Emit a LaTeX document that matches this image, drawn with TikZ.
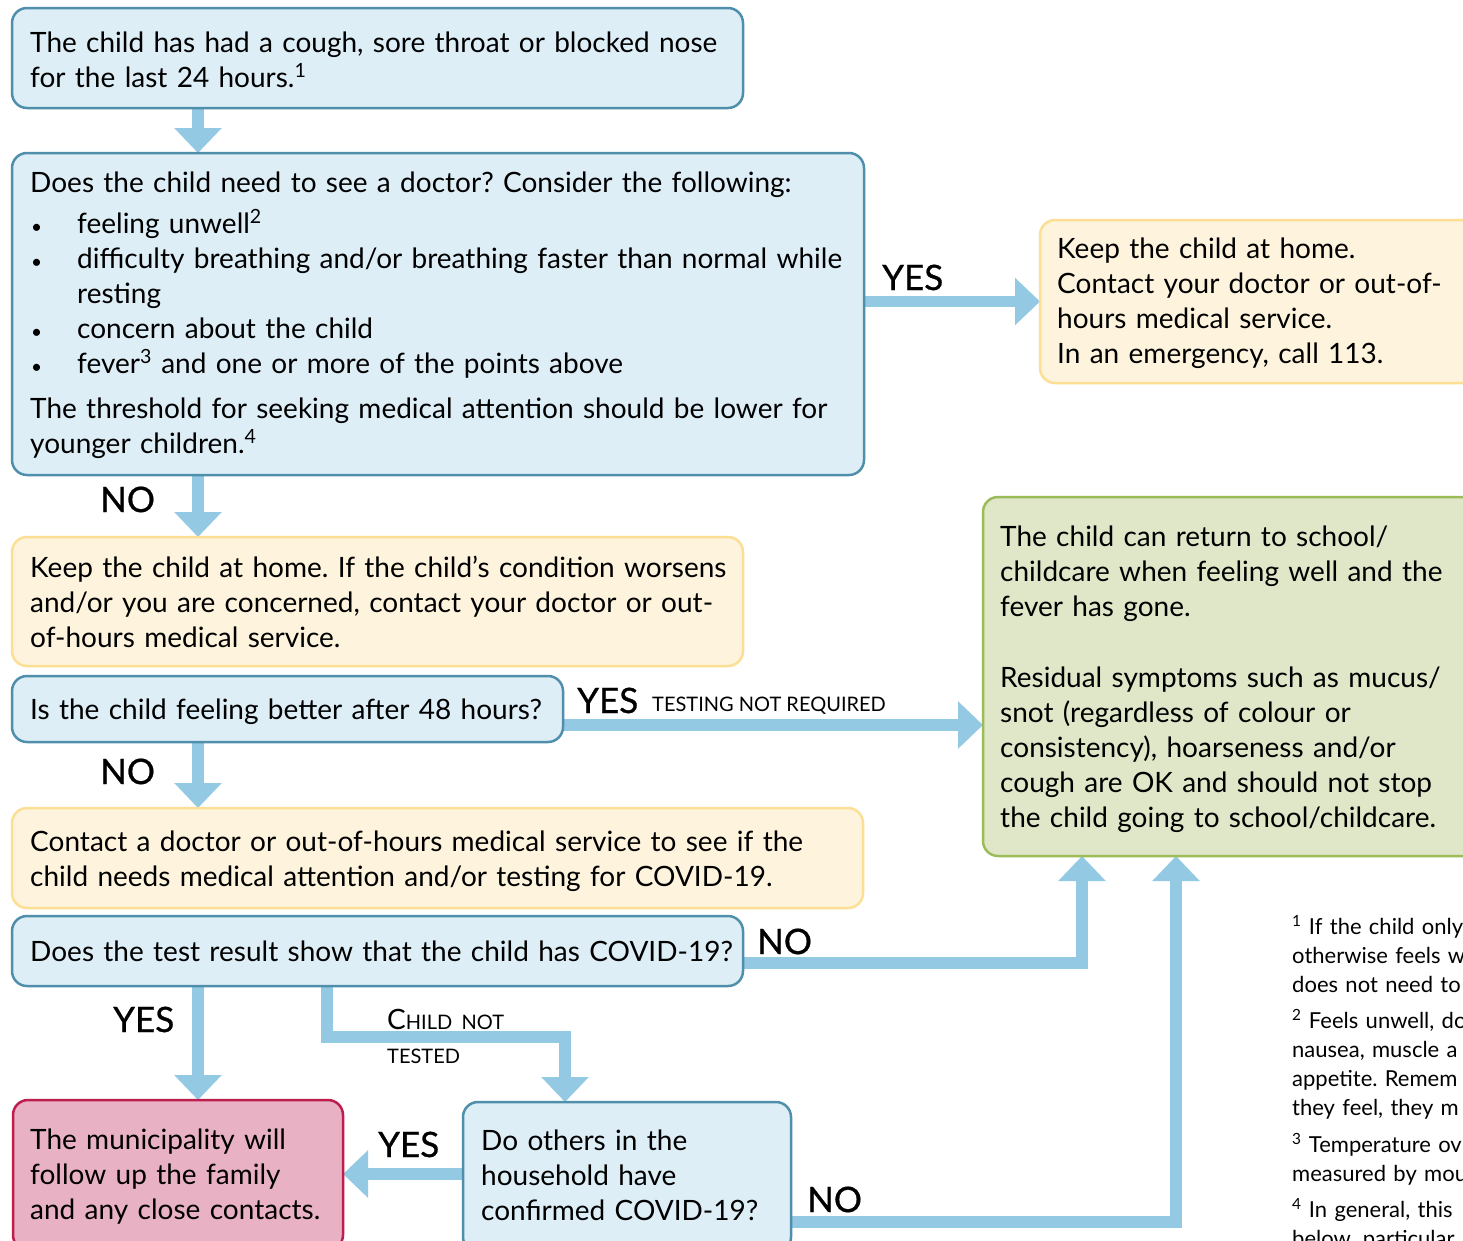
\documentclass[tikz,border=0pt]{standalone}
\usepackage{fontspec}
\setmainfont{Lato}
\newfontfamily\lblfont[FakeBold=0.8]{Lato}
\usetikzlibrary{arrows.meta,calc}
\definecolor{arrowc}{HTML}{93C9E3}
\definecolor{bfill}{HTML}{DDEEF7}
\definecolor{bborder}{HTML}{4F8FAB}
\definecolor{yfill}{HTML}{FEF4DD}
\definecolor{yborder}{HTML}{FCDF95}
\definecolor{gfill}{HTML}{DFE7C8}
\definecolor{gborder}{HTML}{9CBB59}
\definecolor{pfill}{HTML}{E9B2C4}
\definecolor{pborder}{HTML}{BE1E4D}
\pgfdeclarelayer{bg}
\pgfsetlayers{bg,main}
\newcommand{\bul}{\makebox[47pt][l]{\hspace{1pt}{\fontsize{19}{19}\selectfont\textbullet}}}
\tikzset{
  box/.style={draw, line width=2.5pt, rounded corners=15pt, outer sep=0pt, inner sep=0pt, anchor=north west},
  bluebox/.style={box, draw=bborder, fill=bfill},
  yellowbox/.style={box, draw=yborder, fill=yfill},
  greenbox/.style={box, draw=gborder, fill=gfill},
  pinkbox/.style={box, draw=pborder, fill=pfill},
  txt/.style={inner sep=0pt, anchor=base west, align=left, text width=1000pt, font=\fontsize{28}{35}\selectfont\frenchspacing},
  lbl/.style={inner sep=0pt, anchor=base west, font=\lblfont\fontsize{35}{35}\selectfont},
  small/.style={inner sep=0pt, anchor=base west, font=\fontsize{20}{20}\selectfont},
  fn/.style={inner sep=0pt, anchor=base west, align=left, text width=400pt, font=\fontsize{22}{29}\selectfont\frenchspacing},
  flow/.style={draw=arrowc, line width=11.5pt, line join=miter, -{Triangle[width=46pt,length=25pt]}},
}
\begin{document}
\begin{tikzpicture}[x=1pt,y=-1pt]
\useasboundingbox (0,0) rectangle (1463,1240);
\begin{pgfonlayer}{bg}
\fill[white] (0,0) rectangle (1463,1240);
\end{pgfonlayer}
\clip (0,0) rectangle (1463,1240);
% boxes
\node[bluebox, minimum width=731pt, minimum height=100pt] (b1) at (12,8) {};
\node[bluebox, minimum width=852pt, minimum height=322pt] (b2) at (12,153) {};
\node[yellowbox, minimum width=480pt, minimum height=163pt] (b3) at (1040,220) {};
\node[yellowbox, minimum width=731pt, minimum height=129pt] (b4) at (12,537) {};
\node[bluebox, minimum width=551pt, minimum height=66pt] (b5) at (12,676) {};
\node[greenbox, minimum width=520pt, minimum height=359pt] (g) at (983,497) {};
\node[yellowbox, minimum width=851pt, minimum height=100pt] (b6) at (12,808) {};
\node[bluebox, minimum width=731pt, minimum height=70pt] (b7) at (12,916) {};
\node[pinkbox, minimum width=330pt, minimum height=150pt] (p) at (13,1100) {};
\node[bluebox, minimum width=328pt, minimum height=150pt] (b8) at (463,1102) {};
% texts
\node[txt] (t1) at (30,52) {The child has had a cough, sore throat or blocked nose\\for the last 24 hours.\textsuperscript{1}};
\node[txt] (t2a) at (30,192) {Does the child need to see a doctor? Consider the following:};
\node[txt] (t2b) at (30,233) {\bul feeling unwell\textsuperscript{2}\\\bul difficulty breathing and/or breathing faster than normal while\\\hspace*{47pt}resting\\\bul concern about the child\\\bul fever\textsuperscript{3} and one or more of the points above};
\node[txt] (t2c) at (30,418) {The threshold for seeking medical attention should be lower for\\younger children.\textsuperscript{4}};
\node[txt] (t3) at (1057,258) {Keep the child at home.\\Contact your doctor or out-of-\\hours medical service.\\In an emergency, call 113.};
\node[txt] (t4) at (30,577) {Keep the child at home. If the child’s condition worsens\\and/or you are concerned, contact your doctor or out-\\of-hours medical service.};
\node[txt] (t5) at (30,719) {Is the child feeling better after 48 hours?};
\node[txt] (tg1) at (1000,546) {The child can return to school/\\childcare when feeling well and the\\fever has gone.};
\node[txt] (tg2) at (1000,687) {Residual symptoms such as mucus/\\snot (regardless of colour or\\consistency), hoarseness and/or\\cough are OK and should not stop\\the child going to school/childcare.};
\node[txt] (t6) at (30,851) {Contact a doctor or out-of-hours medical service to see if the\\child needs medical attention and/or testing for COVID-19.};
\node[txt] (t7) at (30,961) {Does the test result show that the child has COVID-19?};
\node[txt] (tp) at (30,1149) {The municipality will\\follow up the family\\and any close contacts.};
\node[txt] (t8) at (481,1150) {Do others in the\\household have\\confirmed COVID-19?};
% labels
\node[lbl] (l1) at (882,290) {YES};
\node[lbl] (l2) at (100,512) {NO};
\node[lbl] (l3) at (577,713) {YES};
\node[small] (l3b) at (652,711) {TESTING NOT REQUIRED};
\node[lbl] (l4) at (100,784) {NO};
\node[lbl] (l5) at (757,954) {NO};
\node[lbl] (l6) at (113,1032) {YES};
\node[txt] (l7) at (387,1029) {C{\fontsize{20}{20}\selectfont HILD NOT}};
\node[small] (l7b) at (387,1063) {TESTED};
\node[lbl] (l8) at (378,1157) {YES};
\node[lbl] (l9) at (807,1212) {NO};
% footnotes
\node[fn] (f1) at (1292,934) {\textsuperscript{1} If the child only\\otherwise feels w\\does not need to};
\node[fn] (f2) at (1292,1028) {\textsuperscript{2} Feels unwell, do\\nausea, muscle a\\appetite. Remem\\they feel, they m};
\node[fn] (f3) at (1292,1152) {\textsuperscript{3} Temperature ov\\measured by mou};
\node[fn] (f4) at (1292,1217) {\textsuperscript{4} In general, this\\below, particular};
% connectors
\begin{pgfonlayer}{bg}
\draw[flow] ([xshift=186pt]b1.south west) -- ([xshift=186pt]b2.north west);
\draw[flow] (b2.east |- b3.west) -- (b3.west);
\draw[flow] ([xshift=186pt]b2.south west) -- ([xshift=186pt]b4.north west);
\draw[flow] ([yshift=-16pt]b5.east) coordinate (s5) -- (s5 -| g.west);
\draw[flow] ([xshift=186pt]b5.south west) -- ([xshift=186pt]b6.north west);
\draw[flow] ([yshift=-12pt]b7.east) -| ([xshift=99pt]g.south west);
\draw[flow] ([xshift=186pt]b7.south west) -- ([xshift=185pt]p.north west);
\draw[flow] ([xshift=315pt]b7.south west) -- ++(0,51) -| ([xshift=102pt]b8.north west);
\draw[flow] ([yshift=3pt]b8.west) coordinate (s8) -- (s8 -| p.east);
\draw[flow] ([yshift=-45pt]b8.east) -| ([xshift=193pt]g.south west);
\end{pgfonlayer}
\end{tikzpicture}
\end{document}
